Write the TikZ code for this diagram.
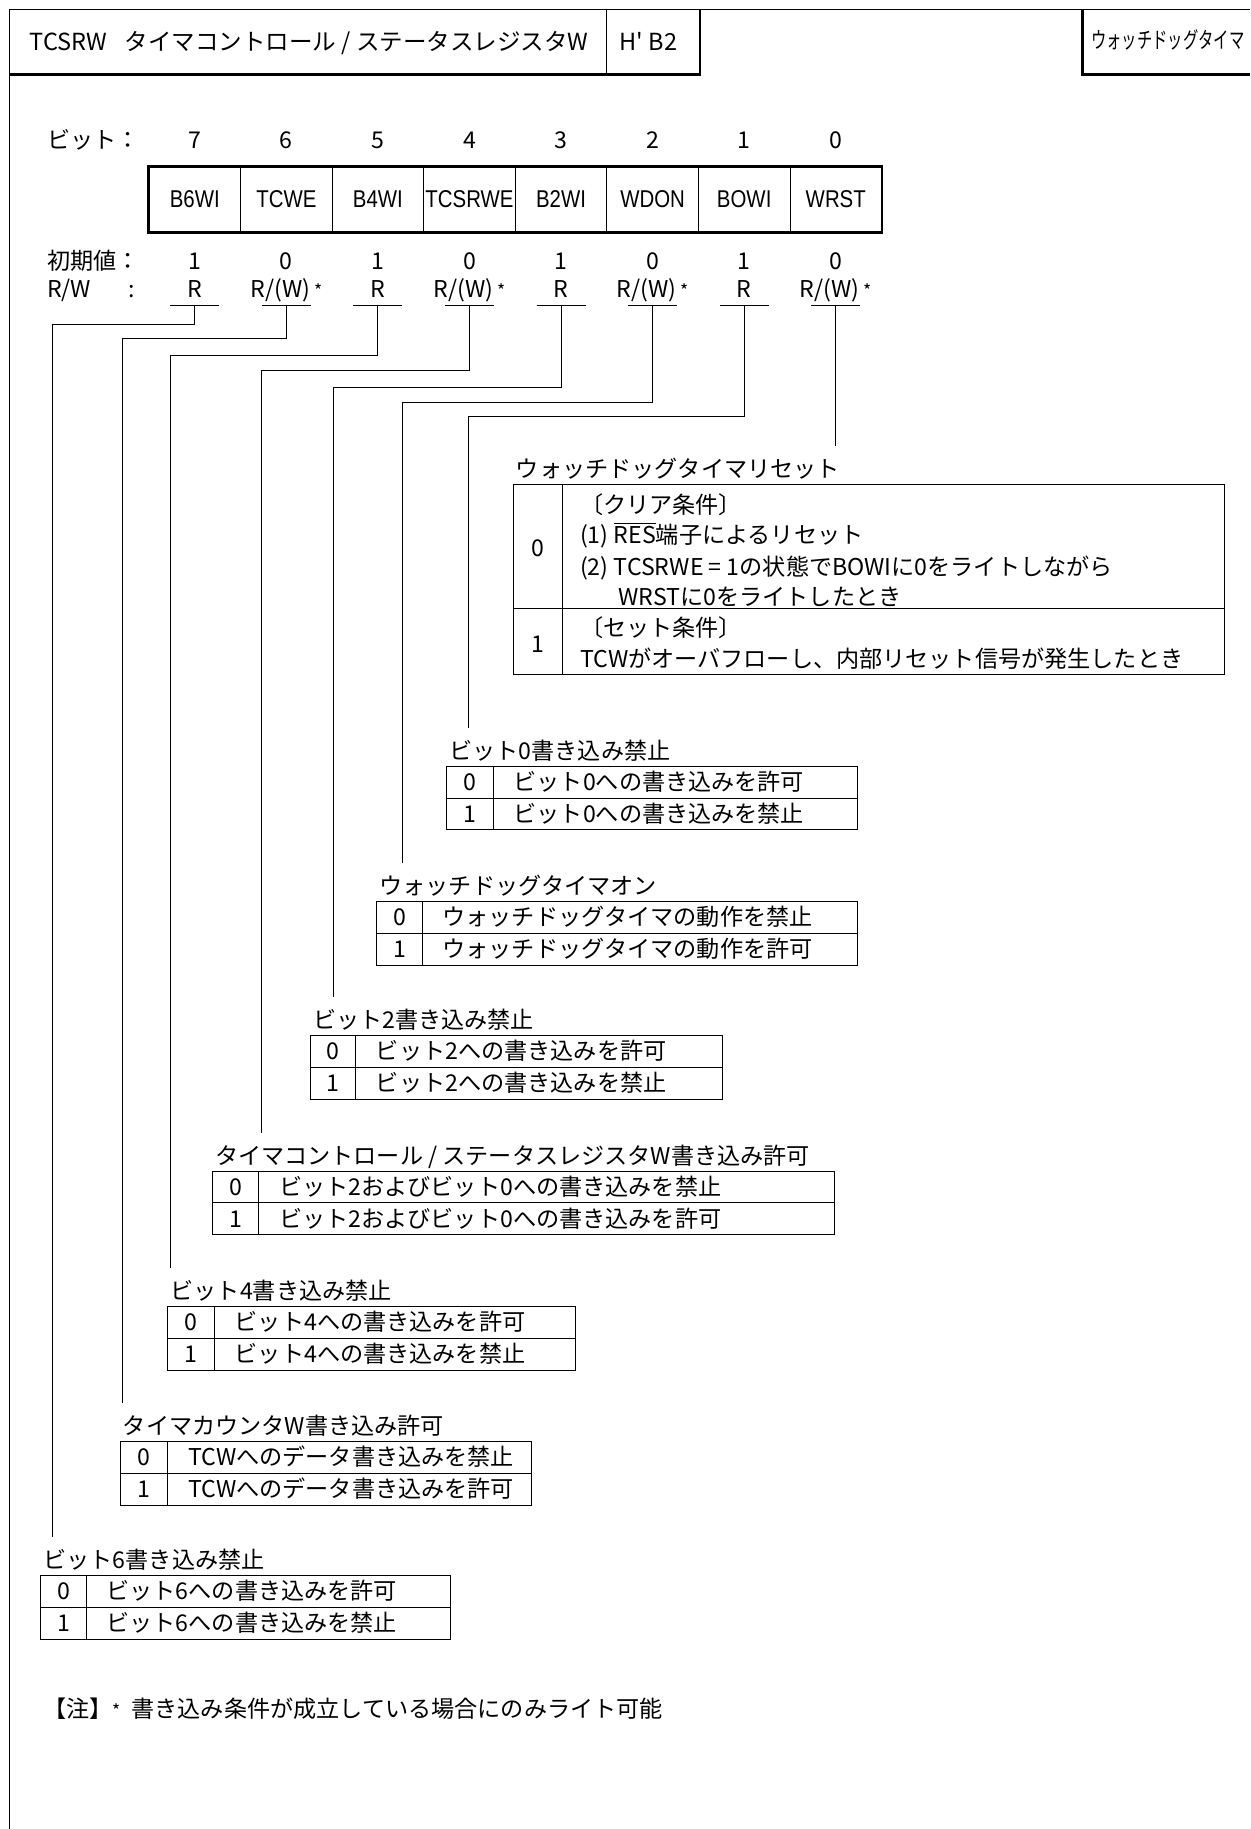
\documentclass[tikz,border=0pt]{standalone}
\usepackage{fontspec}
\setmainfont{Noto Sans CJK JP}
\newfontfamily\regfont[FakeStretch=0.84]{Liberation Sans}
\newfontfamily\slimjp[FakeStretch=0.68]{Noto Sans CJK JP}
\usetikzlibrary{calc,positioning}
\newcommand{\rwstar}{R/(W)\,{\small *}}
\tikzset{
  txt/.style={inner sep=0pt,anchor=base west,font=\fontsize{11.9}{14}\selectfont},
  ctr/.style={txt,anchor=base},
  regcell/.style={draw,line width=0.5pt,minimum width=47.1pt,minimum height=33.6pt,inner sep=0pt,font=\regfont\fontsize{12.5}{14}\selectfont},
  rule/.style={line width=0.5pt},
  heavy/.style={line width=1.3pt},
}
% name, left, top, value column, width, title, row 0, row 1
\newcommand{\bittab}[8]{%
  \node[txt] (#1) at (#2+2,#3-6) {#6};
  \draw[rule] (#2,#3) rectangle (#2+#5,#3+54.5);
  \draw[rule] (#2,#3+27.25) -- (#2+#5,#3+27.25);
  \draw[rule] (#2+#4,#3) -- (#2+#4,#3+54.5);
  \node[ctr] (#1a) at (#2+#4/2,#3+20.6) {0};
  \node[txt] (#1b) at (#2+#4+17,#3+20.6) {#7};
  \node[ctr] (#1c) at (#2+#4/2,#3+47.9) {1};
  \node[txt] (#1d) at (#2+#4+17,#3+47.9) {#8};
}

\begin{document}
\begin{tikzpicture}[x=0.6pt,y=-0.6pt]
\useasboundingbox (0,0) rectangle (1072,1568);
% page frame and header
\draw[rule] (8,1568) -- (8,8) -- (1072,8);
\draw[rule] (520,8) -- (520,64);
\draw[heavy] (600,8) -- (600,64) -- (8,64);
\draw[heavy] (928,8) -- (928,64) -- (1072,64);
\node[txt,font=\fontsize{12.1}{14}\selectfont] (hdr) at (25,43) {TCSRW\hspace{0.75em}タイマコントロール / ステータスレジスタW};
\node[txt,font=\fontsize{12.1}{14}\selectfont] (adr) at (531,43) {H\textquotesingle\ B2};
\node[txt,font=\slimjp\fontsize{11.6}{14}\selectfont] (mod) at (935,42) {ウォッチドッグタイマ};

% bit rows
\node[txt] (lbit) at (40,127) {ビット：};
\node[txt] (linit) at (40,231) {初期値：};
\node[txt] (lrw) at (40,255) {R/W};
\node[txt] (lcol) at (110,255) {:};
\foreach \b/\nm/\iv/\rw [count=\i from 0] in {7/B6WI/1/R,6/TCWE/0/\rwstar,5/B4WI/1/R,4/TCSRWE/0/\rwstar,3/B2WI/1/R,2/WDON/0/\rwstar,1/BOWI/1/R,0/WRST/0/\rwstar}{
  \pgfmathsetmacro{\cx}{167+78.5*\i}
  \node[ctr] (n\b) at (\cx,127) {\b};
  \node[regcell] (r\b) at (\cx,171) {\nm};
  \node[ctr] (v\b) at (\cx,231) {\iv};
  \node[ctr] (w\b) at (\cx,255) {\rw};
  \draw[rule] (\cx-21,262) -- (\cx+21,262);
  \coordinate (u\b) at (\cx,262);
}
\draw[heavy] (r7.north west) rectangle (r0.south east);

% bit 0
\node[txt] (t0) at (442,409) {ウォッチドッグタイマリセット};
\draw[rule] (440,415) rectangle (1050,578);
\draw[rule] (440,522) -- (1050,522);
\draw[rule] (482,415) -- (482,578);
\node[ctr] (t0a) at (461,477) {0};
\node[txt] (t0b) at (497,440) {〔クリア条件〕};
\node[txt] (t0c) at (497,466) {(1) \(\overline{\mbox{RES}}\)端子によるリセット};
\node[txt] (t0d) at (497,493) {(2) TCSRWE = 1の状態でBOWIに0をライトしながら};
\node[txt] (t0e) at (530,519) {WRSTに0をライトしたとき};
\node[ctr] (t0f) at (461,559) {1};
\node[txt] (t0g) at (497,546) {〔セット条件〕};
\node[txt] (t0h) at (497,572) {TCWがオーバフローし、内部リセット信号が発生したとき};

% bits 1-7
\bittab{t1}{383}{657}{40}{352}{ビット0書き込み禁止}{ビット0への書き込みを許可}{ビット0への書き込みを禁止}
\bittab{t2}{323}{773}{39}{412}{ウォッチドッグタイマオン}{ウォッチドッグタイマの動作を禁止}{ウォッチドッグタイマの動作を許可}
\bittab{t3}{266}{888}{39}{353}{ビット2書き込み禁止}{ビット2への書き込みを許可}{ビット2への書き込みを禁止}
\bittab{t4}{182}{1004}{40}{533}{タイマコントロール / ステータスレジスタW書き込み許可}{ビット2およびビット0への書き込みを禁止}{ビット2およびビット0への書き込みを許可}
\bittab{t5}{144}{1120}{40}{349}{ビット4書き込み禁止}{ビット4への書き込みを許可}{ビット4への書き込みを禁止}
\bittab{t6}{103}{1236}{41}{353}{タイマカウンタW書き込み許可}{TCWへのデータ書き込みを禁止}{TCWへのデータ書き込みを許可}
\bittab{t7}{35}{1351}{39}{351}{ビット6書き込み禁止}{ビット6への書き込みを許可}{ビット6への書き込みを禁止}

% leaders
\foreach \b/\dx/\ly in {7/45/278,6/105/290,5/146/305,4/224/318,3/286/332,2/345/345,1/402/357}
  \draw[rule,shorten >=6pt] (u\b) |- (\dx,\ly) -- (\dx,0 |- t\b.north);
\draw[rule,shorten >=6pt] (u0) -- (u0 |- t0.north);

\node[txt] (note) at (37,1472) {【注】{\small *}\ \ 書き込み条件が成立している場合にのみライト可能};
\end{tikzpicture}
\end{document}
